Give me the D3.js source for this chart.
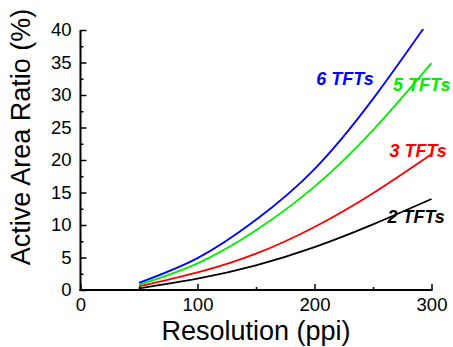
<!DOCTYPE html>
<html>
<head>
<meta charset="utf-8">
<script src="https://cdn.jsdelivr.net/npm/d3@7/dist/d3.min.js"></script>
<style>
  html, body { margin: 0; padding: 0; background: #fff; }
  svg { display: block; font-family: "Liberation Sans", Arial, sans-serif; }
</style>
</head>
<body>
<svg id="chart" width="453" height="347"></svg>
<script>
// ---- data ----
const ppi = [50, 100, 150, 200, 250, 300];
const tft2 = [0.26, 1.75, 3.8, 6.6, 10.1, 14.0];
const tft3 = [0.55, 2.7, 5.6, 9.7, 14.9, 20.9];
const tft5 = [0.8, 4.1, 9.2, 15.9, 24.6, 34.9];
const tft6 = [1.1, 4.9, 10.8, 18.6, 29.4, 42.0];
const seriesNames = ["2 TFTs", "3 TFTs", "5 TFTs", "6 TFTs"];
const seriesColors = ["#000000", "#ff0000", "#00ee00", "#0000ff"];
const xTicks = [0, 100, 200, 300];
const xMinorTicks = [50, 150, 250];
const yTicks = [0, 5, 10, 15, 20, 25, 30, 35, 40];
const yMinorTicks = [2.5, 7.5, 12.5, 17.5, 22.5, 27.5, 32.5, 37.5];

(function () {
const svg = d3.select("#chart");
const mLeft = 80.5, mRight = 431.5, mTop = 30, mBottom = 290;
const x = d3.scaleLinear().domain([0, 300]).range([mLeft, mRight]);
const y = d3.scaleLinear().domain([0, 40]).range([mBottom, mTop]);

svg.append("defs").append("clipPath").attr("id", "clip")
  .append("rect").attr("x", mLeft).attr("y", mTop - 1).attr("width", mRight - mLeft + 2).attr("height", mBottom - mTop + 1);

const allSeries = [tft2, tft3, tft5, tft6];
const line = d3.line().x(d => x(d[0])).y(d => y(d[1])).curve(d3.curveNatural);
const g = svg.append("g").attr("clip-path", "url(#clip)");
allSeries.forEach((vals, i) => {
  g.append("path")
    .datum(ppi.map((p, j) => [p, vals[j]]))
    .attr("fill", "none")
    .attr("stroke", seriesColors[i])
    .attr("stroke-width", 1.8)
    .attr("d", line);
});

// axes (ticks inward)
const xAxis = d3.axisBottom(x).tickValues(xTicks).tickSize(-6).tickPadding(8).tickFormat(d3.format("d"));
const xMinor = d3.axisBottom(x).tickValues(xMinorTicks).tickSize(-3).tickFormat("");
const yAxis = d3.axisLeft(y).tickValues(yTicks).tickSize(-6).tickPadding(9).tickFormat(d3.format("d"));
const yMinor = d3.axisLeft(y).tickValues(yMinorTicks).tickSize(-3).tickFormat("");

function style(sel) {
  sel.select(".domain").attr("stroke", "#000").attr("stroke-width", 2);
  sel.selectAll(".tick line").attr("stroke", "#000").attr("stroke-width", 1.5);
  sel.selectAll("text").attr("font-size", 18.5).attr("fill", "#000")
    .attr("font-family", "'Liberation Sans', Arial, sans-serif");
}
svg.append("g").attr("transform", `translate(0,${mBottom})`).call(xMinor).call(style).select(".domain").remove();
svg.append("g").attr("transform", `translate(${mLeft},0)`).call(yMinor).call(style).select(".domain").remove();
svg.append("g").attr("transform", `translate(0,${mBottom})`).call(xAxis).call(style)
  .select(".domain").attr("d", `M${mLeft - 1},0H${mRight + 1}`);
svg.append("g").attr("transform", `translate(${mLeft},0)`).call(yAxis).call(style)
  .select(".domain").attr("d", `M0,${mTop}V${mBottom + 1}`);

// axis titles
svg.append("text").attr("x", (mLeft + mRight) / 2).attr("y", 339.5)
  .attr("text-anchor", "middle").attr("font-size", 27).text("Resolution (ppi)");
svg.append("text").attr("transform", `translate(30,137) rotate(-90)`)
  .attr("text-anchor", "middle").attr("font-size", 27).text("Active Area Ratio (%)");

// series labels
const labelPos = [[262.4, 10.3], [264, 20.5], [267.2, 30.6], [201.6, 31.5]];
seriesNames.forEach((name, i) => {
  svg.append("text")
    .attr("x", x(labelPos[i][0])).attr("y", y(labelPos[i][1]))
    .attr("font-size", 18).attr("font-weight", "bold").attr("font-style", "italic")
    .attr("fill", seriesColors[i]).text(name);
});
})();
</script>
</body>
</html>
